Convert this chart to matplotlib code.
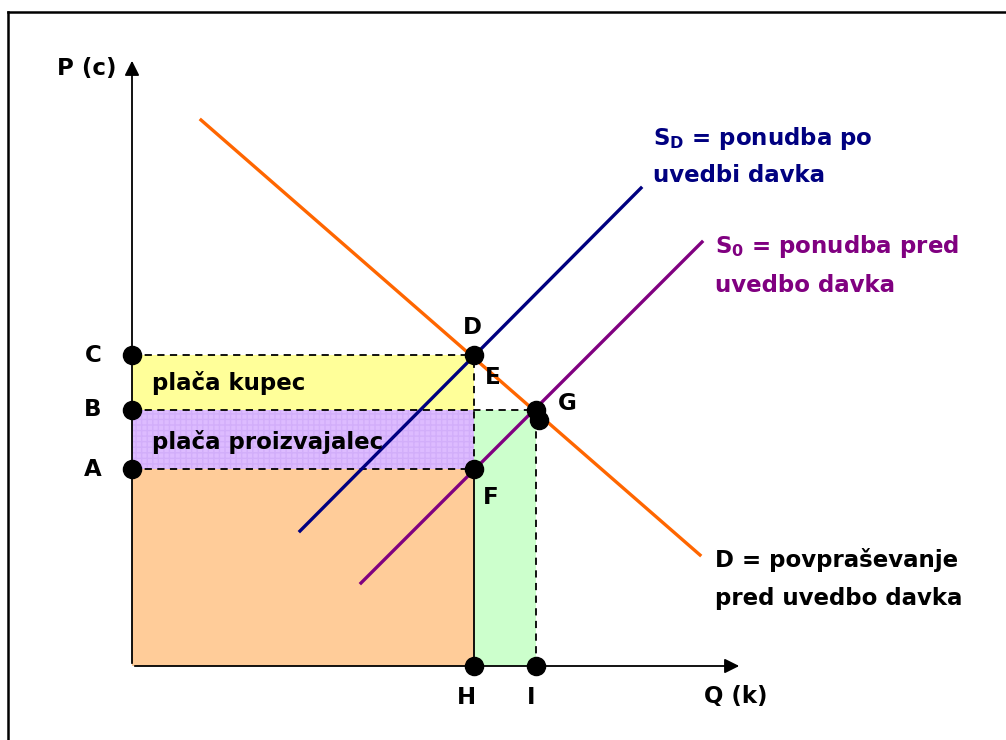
import matplotlib.pyplot as plt
from matplotlib.patches import Rectangle

# price levels (C = buyer price, B = old equilibrium, A = seller price)
price_C = 311
price_B = 256
price_A = 197
# quantities (H = after tax, I = before tax)
qty_H = 342
qty_I = 404

# curves: start / end points
demand_x = [69, 568]
demand_y = [546, 111]
supply_tax_x = [168, 509]
supply_tax_y = [135, 478]
supply_0_x = [229, 570]
supply_0_y = [83, 424]

# marked points
dot_x = [0, 0, 0, 342, 404, 407, 342, 342, 404]
dot_y = [311, 256, 197, 311, 256, 246, 197, 0, 0]

point_labels = ["C", "B", "A", "D", "E", "G", "F", "H", "I"]
point_label_x = [-39, -39, -39, 340, 361, 435, 359, 334, 399]
point_label_y = [311, 256, 197, 338, 288, 263, 169, -31, -31]

fig = plt.figure(figsize=(10.06, 7.4), dpi=100)
ax = fig.add_axes([0, 0, 1, 1])
ax.set_xlim(-132, 874)
ax.set_ylim(-74, 666)
ax.axis("off")

bold = dict(fontweight="bold", fontsize=16.5, family="DejaVu Sans")

# frame (only top and left visible)
ax.plot([-124, -124], [-80, 654], color="black", lw=1.8, clip_on=False)
ax.plot([-124, 880], [654, 654], color="black", lw=1.8, clip_on=False)

# shaded areas
ax.add_patch(Rectangle((0, 0), qty_H, price_A, facecolor="#FFCC99", edgecolor="none"))
ax.add_patch(Rectangle((0, price_B), qty_H, price_C - price_B, facecolor="#FFFF99", edgecolor="none"))
ax.add_patch(Rectangle((0, price_A), qty_H, price_B - price_A, facecolor="#DDBBFF",
                       edgecolor="#D2AEFA", hatch="+++", lw=0))
ax.add_patch(Rectangle((qty_H, 0), qty_I - qty_H, price_B, facecolor="#CCFFCC", edgecolor="none"))

# dashed guides
dash = dict(color="black", lw=1.3, ls=(0, (4, 3)))
ax.plot([0, qty_H], [price_C, price_C], **dash)
ax.plot([0, qty_I], [price_B, price_B], **dash)
ax.plot([0, qty_H], [price_A, price_A], **dash)
ax.plot([qty_H, qty_H], [price_A, price_C], **dash)
ax.plot([qty_I, qty_I], [0, price_B], **dash)
ax.plot([qty_H, qty_H], [0, price_A], color="black", lw=1.3)

# axes with arrows
ax.annotate("", xy=(0, 608), xytext=(0, 0),
            arrowprops=dict(arrowstyle="-|>", color="black", lw=1.3, mutation_scale=22))
ax.annotate("", xy=(610, 0), xytext=(0, 0),
            arrowprops=dict(arrowstyle="-|>", color="black", lw=1.3, mutation_scale=22))

# curves
ax.plot(demand_x, demand_y, color="#FF6600", lw=2.4)
ax.plot(supply_tax_x, supply_tax_y, color="#000080", lw=2.4)
ax.plot(supply_0_x, supply_0_y, color="#800080", lw=2.4)

ax.scatter(dot_x, dot_y, s=170, color="black", zorder=5, clip_on=False)

for lab, lx, ly in zip(point_labels, point_label_x, point_label_y):
    ax.text(lx, ly, lab, ha="center", va="center", **bold)

ax.text(-45, 598, "P (c)", ha="center", va="center", **bold)
ax.text(604, -31, "Q (k)", ha="center", va="center", **bold)

ax.text(20, 283, "plača kupec", ha="left", va="center", **bold)
ax.text(20, 224, "plača proizvajalec", ha="left", va="center", **bold)

ax.text(521, 528, r"S$_\mathbf{D}$ = ponudba po", color="#000080", ha="left", va="center", **bold)
ax.text(521, 490, "uvedbi davka", color="#000080", ha="left", va="center", **bold)
ax.text(583, 419, r"S$_\mathbf{0}$ = ponudba pred", color="#800080", ha="left", va="center", **bold)
ax.text(583, 381, "uvedbo davka", color="#800080", ha="left", va="center", **bold)
ax.text(583, 106, "D = povpraševanje", color="black", ha="left", va="center", **bold)
ax.text(583, 68, "pred uvedbo davka", color="black", ha="left", va="center", **bold)

fig.savefig("out.png", dpi=100)
